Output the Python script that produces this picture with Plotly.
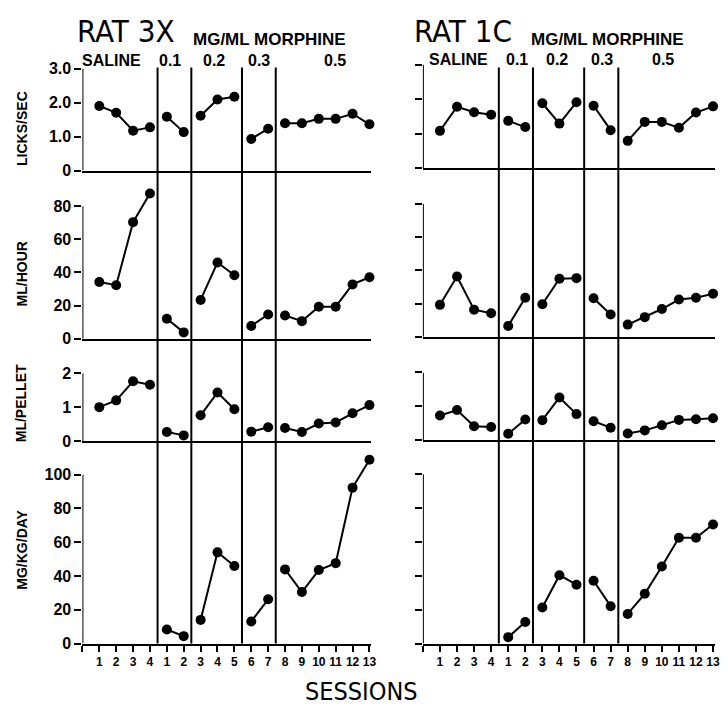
import plotly.graph_objects as go

# ---------------- data ----------------
phases = ["SALINE", "0.1", "0.2", "0.3", "0.5"]
phase_sizes = [4, 2, 3, 2, 6]
session_labels = ["1", "2", "3", "4", "1", "2", "3", "4", "5", "6", "7",
                  "8", "9", "10", "11", "12", "13"]
phase_boundaries = [3.45, 5.45, 8.45, 10.45]
rats = ["RAT 3X", "RAT 1C"]
measures = ["LICKS/SEC", "ML/HOUR", "ML/PELLET", "MG/KG/DAY"]

rat3x_licks = [1.90, 1.70, 1.17, 1.27, 1.58, 1.13, 1.61, 2.09, 2.17, 0.93, 1.23,
               1.39, 1.39, 1.52, 1.52, 1.67, 1.36]
rat3x_hour = [34.2, 32.3, 70.4, 87.7, 12.0, 3.8, 23.4, 46.0, 38.3, 7.7, 14.6,
              14.0, 10.6, 19.3, 19.3, 32.8, 37.1]
rat3x_pellet = [1.00, 1.20, 1.76, 1.66, 0.27, 0.17, 0.76, 1.43, 0.94, 0.28, 0.41,
                0.39, 0.27, 0.52, 0.55, 0.82, 1.06]
rat3x_mg = [None, None, None, None, 8.3, 4.4, 14.0, 54.0, 45.9, 13.1, 26.2,
            43.9, 30.5, 43.5, 47.6, 92.3, 108.8]

rat1c_licks = [1.08, 1.78, 1.62, 1.55, 1.37, 1.19, 1.88, 1.29, 1.91, 1.81, 1.10,
               0.79, 1.34, 1.34, 1.17, 1.61, 1.79]
rat1c_hour = [19.2, 36.3, 16.3, 14.1, 6.5, 23.5, 19.6, 34.9, 35.3, 23.2, 13.4,
              7.3, 11.8, 16.7, 22.4, 23.5, 25.9]
rat1c_pellet = [0.73, 0.89, 0.41, 0.39, 0.19, 0.61, 0.59, 1.26, 0.77, 0.56, 0.37,
                0.20, 0.29, 0.44, 0.60, 0.62, 0.65]
rat1c_mg = [None, None, None, None, 3.8, 12.7, 21.3, 40.4, 34.8, 37.1, 22.1,
            17.5, 29.4, 45.6, 62.5, 62.5, 70.4]

licks_ticks = [0, 1, 2, 3]
licks_ticktext = ["0", "1.0", "2.0", "3.0"]
hour_ticks = [0, 20, 40, 60, 80]
pellet_ticks = [0, 1, 2]
mg_ticks = [0, 20, 40, 60, 80, 100]

series = [[rat3x_licks, rat3x_hour, rat3x_pellet, rat3x_mg],
          [rat1c_licks, rat1c_hour, rat1c_pellet, rat1c_mg]]
tick_sets = [(licks_ticks, licks_ticktext),
             (hour_ticks, [str(v) for v in hour_ticks]),
             (pellet_ticks, [str(v) for v in pellet_ticks]),
             (mg_ticks, [str(v) for v in mg_ticks])]
y_ranges = [[0, 3], [0, 90], [0, 2], [0, 112]]

# ---------------- layout constants (pixels) ----------------
W, H = 728, 717
col_x = [(83, 373.7), (425.8, 719.7)]           # pixel x of index -1 and 16.1
x_range = [-1, 16.1]
# (pixel of 0, pixel of range max) per column and row
row_px = [
    [(166.5, 62), (338.7, 186.1), (443.7, 374), (651, 457.2)],
    [(164, 58), (336.7, 183.7), (442.7, 373.3), (651, 456.9)],
]

BOLD = dict(family="Liberation Sans, Arial, sans-serif", color="black", weight="bold")
THIN = dict(family="DejaVu Sans Condensed, Liberation Sans Narrow, Liberation Sans, Arial, sans-serif",
            color="black")

fig = go.Figure()
layout = dict(width=W, height=H, margin=dict(l=0, r=0, t=0, b=0),
              paper_bgcolor="white", plot_bgcolor="white", showlegend=False)
shapes = []
annotations = []

x_index = list(range(17))


def label(text, px, py, font, angle=0):
    annotations.append(dict(text=text, x=px / W, y=1 - py / H, xref="paper", yref="paper",
                            xanchor="center", yanchor="middle", showarrow=False,
                            textangle=angle, font=font))


for c in range(2):
    for r in range(4):
        k = r * 2 + c + 1
        xs = "" if k == 1 else str(k)
        vals = series[c][r]
        # one trace per phase so phases are not connected
        start = 0
        for n in phase_sizes:
            seg_x = [x_index[i] for i in range(start, start + n) if vals[i] is not None]
            seg_y = [vals[i] for i in range(start, start + n) if vals[i] is not None]
            start += n
            if not seg_x:
                continue
            fig.add_trace(go.Scatter(
                x=seg_x, y=seg_y, mode="lines+markers",
                line=dict(color="black", width=2),
                marker=dict(color="black", size=10),
                xaxis="x" + xs, yaxis="y" + xs, cliponaxis=False,
                hoverinfo="skip"))
        y0p, y1p = row_px[c][r]
        tv, tt = tick_sets[r]
        bottom = (r == 3)
        layout["xaxis" + xs] = dict(
            domain=[col_x[c][0] / W, col_x[c][1] / W], range=x_range,
            anchor="y" + xs, showgrid=False, zeroline=False,
            showline=True, linewidth=2, linecolor="black",
            ticks="outside" if bottom else "", ticklen=6, tickwidth=2, tickcolor="black",
            tickvals=list(range(-1, 17)) if bottom else [],
            ticktext=[""] + session_labels if bottom else [],
            showticklabels=bottom, tickfont=dict(size=12, **BOLD), tickangle=0)
        layout["yaxis" + xs] = dict(
            domain=[1 - y0p / H, 1 - y1p / H], range=y_ranges[r],
            anchor="x" + xs, showgrid=False, zeroline=False, showline=False,
            ticks="outside", ticklen=7, tickwidth=2, tickcolor="black",
            tickvals=tv, ticktext=tt, showticklabels=(c == 0),
            tickfont=dict(size=16, **BOLD))
        # y axis line from 0 to the top tick
        shapes.append(dict(type="line", xref="x" + xs, yref="y" + xs,
                           x0=-1, x1=-1, y0=0, y1=tv[-1],
                           line=dict(color="black", width=2)))
    # phase divider lines across all four rows
    kb = 6 + c + 1
    for b in phase_boundaries:
        shapes.append(dict(type="line", xref="x" + str(kb), yref="paper",
                           x0=b, x1=b, y0=1 - 651 / H, y1=1 - 61 / H,
                           line=dict(color="black", width=2)))

# headers
title_pos = [(127, 24), (466, 24)]
morph_pos = [(271, 32), (612, 32)]
phase_label_pos = [[112, 171, 215, 261, 337], [462, 521, 561, 606, 668]]
phase_label_y = [54, 53]
for c in range(2):
    label(rats[c], title_pos[c][0], title_pos[c][1], dict(size=31, **THIN))
    label("MG/ML MORPHINE", morph_pos[c][0], morph_pos[c][1], dict(size=17, **BOLD))
    for name, px in zip(phases, phase_label_pos[c]):
        label(name, px, phase_label_y[c], dict(size=16, **BOLD))

ytitle_y = [123, 272, 405, 555]
for name, py in zip(measures, ytitle_y):
    label(name, 22, py, dict(size=14, **BOLD), angle=-90)

label("SESSIONS", 364, 700, dict(size=25, **THIN))

layout["shapes"] = shapes
layout["annotations"] = annotations
fig.update_layout(**layout)
fig.write_html("out.html")
